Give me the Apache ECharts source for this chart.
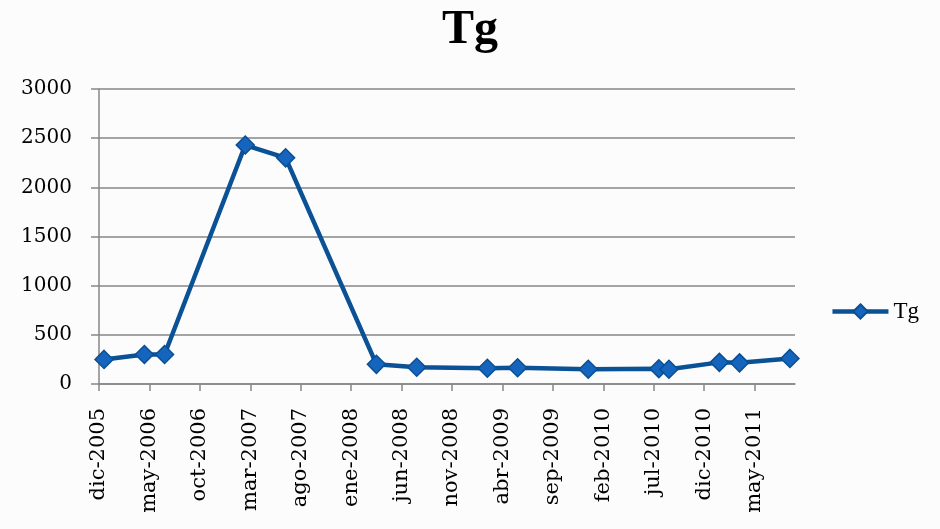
<!DOCTYPE html>
<html>
<head>
<meta charset="utf-8">
<script src="https://cdn.jsdelivr.net/npm/echarts@6/dist/echarts.min.js"></script>
<style>
  html, body { margin: 0; padding: 0; background: #fcfcfc; }
  #chart { width: 940px; height: 529px; }
</style>
</head>
<body>
<div id="chart"></div>
<script>
// months of the samples and the Tg values
const sampleMonths = ['2005-12', '2006-04', '2006-06', '2007-02', '2007-06', '2008-03', '2008-07',
  '2009-02', '2009-05', '2009-12', '2010-07', '2010-08', '2011-01', '2011-03', '2011-08']
const tgValues = [250, 300, 300, 2430, 2300, 200, 170, 160, 165, 150, 155, 150, 220, 215, 260]

// x axis labels, one every 5 months starting at dic-2005
const tickLabels = ['dic-2005', 'may-2006', 'oct-2006', 'mar-2007', 'ago-2007', 'ene-2008', 'jun-2008',
  'nov-2008', 'abr-2009', 'sep-2009', 'feb-2010', 'jul-2010', 'dic-2010', 'may-2011']
const yTicks = [0, 500, 1000, 1500, 2000, 2500, 3000]

// month slots counted from dic-2005, points sit in the middle of their month
const monthIndex = (s) => {
  const [y, m] = s.split('-').map(Number)
  return (y - 2005) * 12 + (m - 12)
}
const seriesData = sampleMonths.map((s, i) => [monthIndex(s) + 0.5, tgValues[i]])
const tickValues = tickLabels.map((_, i) => i * 5)

const gridColor = '#878787'
const serif = '"DejaVu Serif", "Liberation Serif", serif'

const chart = echarts.init(document.getElementById('chart'))
chart.setOption({
  animation: false,
  title: {
    text: 'Tg',
    left: 'center',
    top: 2,
    textStyle: { fontFamily: '"Liberation Serif", serif', fontWeight: 'bold', fontSize: 48, color: '#000' }
  },
  legend: {
    right: 16,
    top: 295,
    itemWidth: 56,
    itemHeight: 18,
    itemGap: 4,
    lineStyle: { width: 4.5 },
    textStyle: { fontFamily: '"Liberation Serif", serif', fontSize: 23, color: '#000' },
    data: ['Tg']
  },
  grid: { left: 99, right: 145, top: 89, bottom: 145 },
  xAxis: {
    type: 'value',
    min: 0,
    max: 69,
    interval: 5,
    splitLine: { show: false },
    axisLine: { show: true, lineStyle: { color: gridColor, width: 1.5 } },
    axisTick: { show: true, length: 7, customValues: tickValues, lineStyle: { color: gridColor, width: 1.5 } },
    axisLabel: {
      customValues: tickValues,
      rotate: 90,
      margin: 24,
      fontFamily: serif,
      fontSize: 21,
      color: '#000',
      formatter: (v) => tickLabels[Math.round(v / 5)] || ''
    }
  },
  yAxis: {
    type: 'value',
    min: 0,
    max: 3000,
    interval: 500,
    axisLine: { show: true, lineStyle: { color: gridColor, width: 1.5 } },
    axisTick: { show: true, length: 8, lineStyle: { color: gridColor, width: 1.5 } },
    splitLine: { show: true, lineStyle: { color: gridColor, width: 1.5 } },
    axisLabel: {
      margin: 27,
      fontFamily: serif,
      fontSize: 20,
      color: '#000',
      customValues: yTicks,
      formatter: (v) => String(v)
    }
  },
  series: [{
    name: 'Tg',
    type: 'line',
    data: seriesData,
    symbol: 'diamond',
    symbolSize: 18,
    lineStyle: { color: '#0b5196', width: 4.5 },
    itemStyle: { color: '#1565bf', borderColor: '#0b4f92', borderWidth: 1.5 }
  }]
})
</script>
</body>
</html>
